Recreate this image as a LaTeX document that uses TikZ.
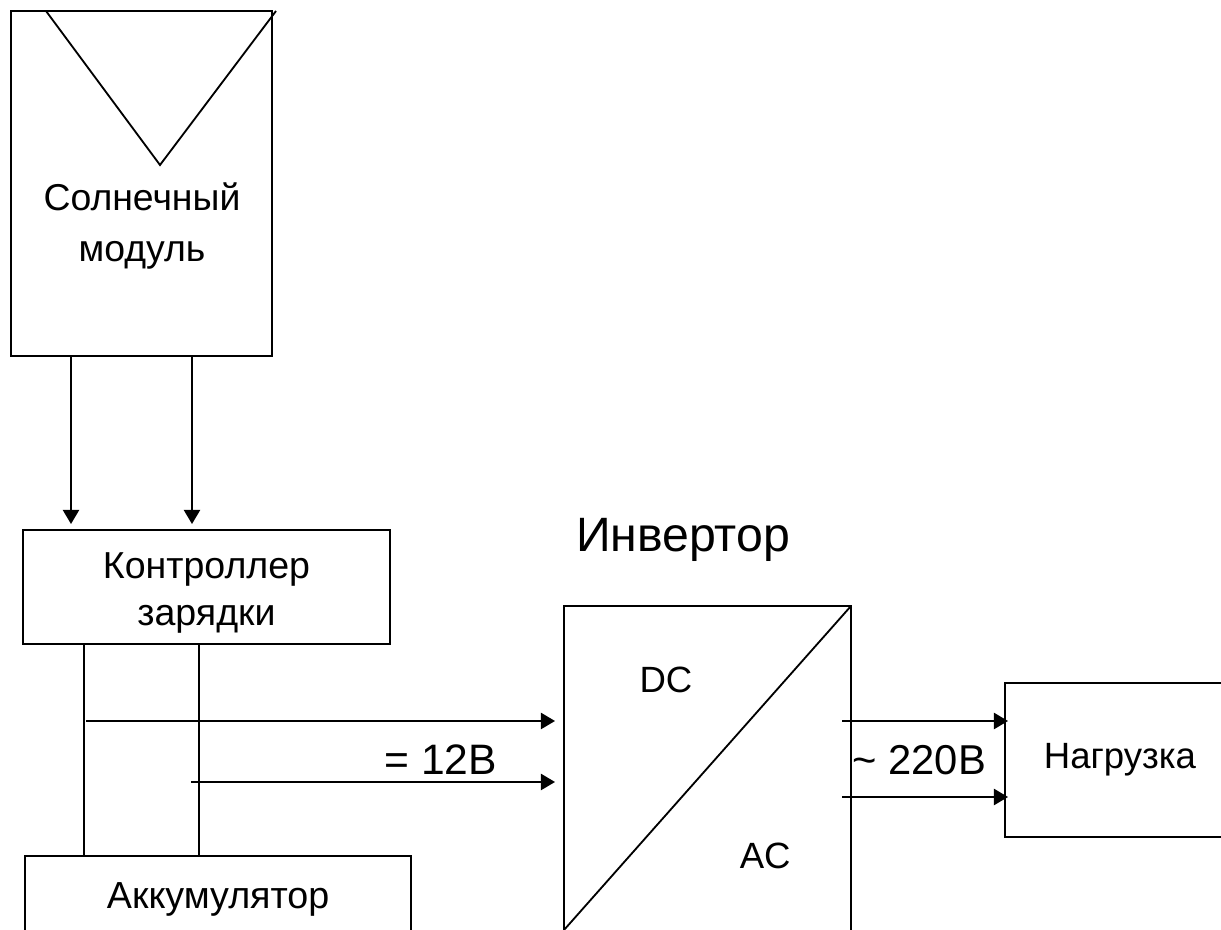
\documentclass[tikz,border=0pt]{standalone}
\usepackage{fontspec}
\setmainfont{Liberation Sans}
\usetikzlibrary{arrows.meta, positioning, calc}
\tikzstyle{block}  = [rectangle, draw=black, line width=1.5pt, outer sep=0pt, text centered]
\tikzstyle{label}  = [inner sep=0pt, text centered, font=\fontsize{26.6}{36}\selectfont]
\tikzstyle{wire}   = [line width=1.3pt, black]
\tikzstyle{arrow}  = [-{Triangle[length=10pt, width=11.5pt]}, line width=1.3pt, black]

\begin{document}
\begin{tikzpicture}
  \useasboundingbox (0,0) rectangle (30.525,-23.25);
  \clip (0,0) rectangle (30.525,-23.25);

  %% Boxes
  \node[block, minimum width=6.525cm, minimum height=8.625cm, anchor=north west] (solar)
        at (0.275,-0.275) {};
  \node[block, minimum width=9.175cm, minimum height=2.85cm, below=4.35cm of solar,
        xshift=1.625cm, font=\fontsize{26.7}{34}\selectfont, text width=8cm] (ctrl)
        {\rule{0pt}{27pt}Контроллер\\зарядки};
  \node[block, minimum width=9.65cm, minimum height=2.15cm, below=5.3cm of ctrl,
        xshift=0.29cm, font=\fontsize{26.8}{30}\selectfont] (accu) {Аккумулятор};
  \node[block, minimum width=7.175cm, minimum height=9cm, anchor=north west] (inv)
        at (14.1,-15.15) {};
  \node[block, minimum width=5.75cm, minimum height=3.85cm, anchor=north west,
        font=\fontsize{26}{30}\selectfont] (load)
        at (25.125,-17.075) {Нагрузка};

  %% Texts
  \node[label, align=center] (solartext) at (3.55,-5.65) {Солнечный\\модуль};
  \node[label, font=\fontsize{34.3}{40}\selectfont, above=1.1cm of inv, xshift=-0.61cm] (invtext) {Инвертор};
  \node[label, font=\fontsize{26}{30}\selectfont] (dc) at (16.65,-17) {DC};
  \node[label, font=\fontsize{26}{30}\selectfont] (ac) at (19.13,-21.4) {AC};
  \node[label, font=\fontsize{30.3}{30}\selectfont] (dcvolt) at (11.02,-19) {= 12В};
  \node[label, font=\fontsize{29.7}{30}\selectfont] (acvolt) at (22.98,-19) {\textasciitilde{} 220В};

  %% Panel triangle
  \coordinate (triA) at (1.15,-0.275);
  \coordinate (triB) at (4,-4.125);
  \coordinate (triC) at (6.9,-0.275);
  \draw[wire] (triA) -- (triB) -- (triC);

  %% Inverter diagonal
  \coordinate (invcut) at (14.1,-23.25);
  \draw[wire] (inv.north east) -- (invcut);

  %% Arrows
  \coordinate (solarA) at ($(solar.south west)+(1.5,0)$);
  \coordinate (solarB) at ($(solar.south west)+(4.525,0)$);
  \draw[arrow, shorten >=0.15cm] (solarA) -- (solarA |- ctrl.north);
  \draw[arrow, shorten >=0.15cm] (solarB) -- (solarB |- ctrl.north);

  \coordinate (ctrlA) at ($(ctrl.south west)+(1.52,0)$);
  \coordinate (ctrlB) at ($(ctrl.south west)+(4.4,0)$);
  \draw[wire] (ctrlA) -- (ctrlA |- accu.north);
  \draw[wire] (ctrlB) -- (ctrlB |- accu.north);

  \coordinate (busA) at (2.15,-18.025);
  \coordinate (busB) at (4.775,-19.55);
  \draw[arrow, shorten >=0.225cm] (busA) -- (busA -| inv.west);
  \draw[arrow, shorten >=0.225cm] (busB) -- (busB -| inv.west);

  \coordinate (outA) at (21.05,-18.025);
  \coordinate (outB) at (21.05,-19.925);
  \draw[arrow, shorten >=-0.075cm] (outA) -- (outA -| load.west);
  \draw[arrow, shorten >=-0.075cm] (outB) -- (outB -| load.west);

\end{tikzpicture}
\end{document}
